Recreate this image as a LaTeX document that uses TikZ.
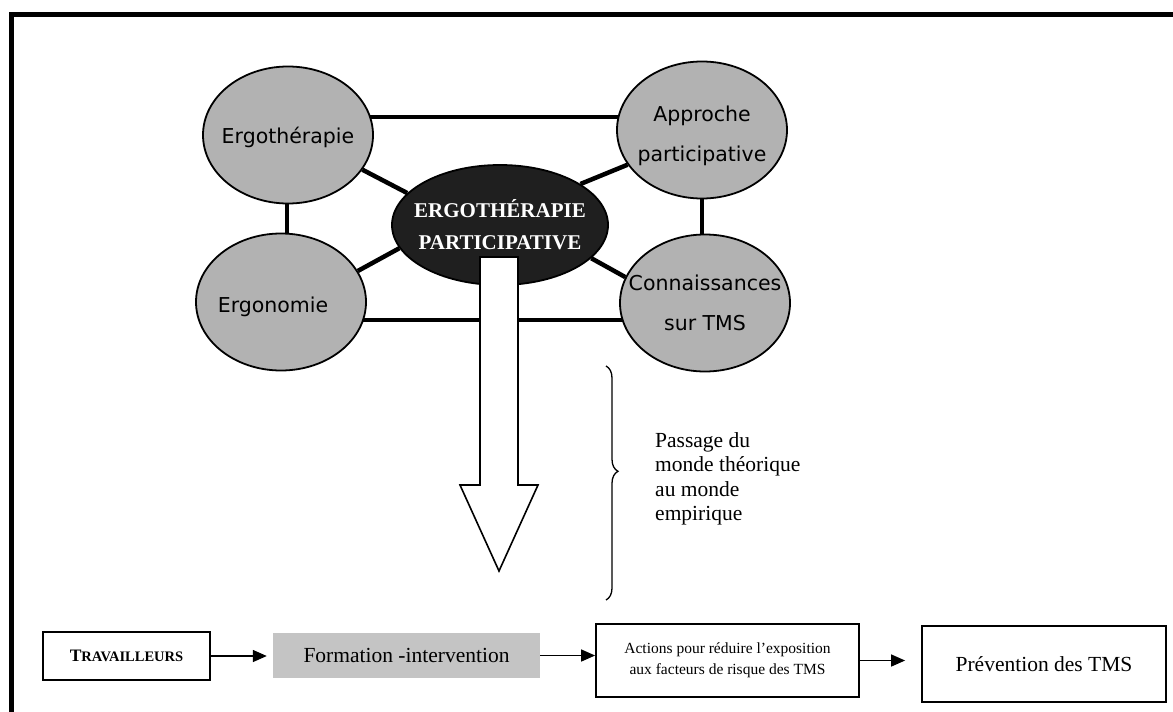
\documentclass[tikz,border=0pt]{standalone}
\usepackage{fontspec}
\setmainfont{Liberation Serif}
\newfontfamily\bubblefont{DejaVu Sans}
\usetikzlibrary{shapes.geometric,arrows.meta,decorations.pathreplacing,backgrounds}

\definecolor{bubblegray}{gray}{0.70}
\definecolor{coregray}{gray}{0.12}
\definecolor{formgray}{gray}{0.77}

\begin{document}
\begin{tikzpicture}[x=1pt,y=-1pt,
  bubble/.style={ellipse, draw=black, line width=1.8pt, fill=bubblegray,
    minimum width=170pt, minimum height=137pt, inner sep=0pt},
  bubbletext/.style={font=\bubblefont\fontsize{20.5}{40}\selectfont, align=center, inner sep=0pt},
  link/.style={line width=4.5pt},
  stepbox/.style={draw=black, line width=1.8pt, fill=white, inner sep=0pt, align=center},
  flow/.style={line width=1.5pt, -{Triangle[length=14pt,width=12pt]}}
]
\useasboundingbox (0,0) rectangle (1173,712);

% outer frame (left and top rules only)
\draw[line width=5pt, line join=miter] (11.5,712) -- (11.5,14.5) -- (1173,14.5);

% the four disciplines
\node[bubble, label={[bubbletext, yshift=-2pt]center:Ergoth\'erapie}] (ergo) at (288,135) {};
\node[bubble, label={[bubbletext, yshift=-6pt]center:Approche\\participative}] (appr) at (702,130) {};
\node[bubble, label={[bubbletext, xshift=-8pt, yshift=-5pt]center:Ergonomie}] (ergon) at (281,302) {};
\node[bubble, label={[bubbletext]center:Connaissances\\sur TMS}] (conn) at (705,303) {};

% central concept
\node[ellipse, draw=black, line width=1.8pt, fill=coregray,
      minimum width=216pt, minimum height=120pt, inner sep=0pt,
      label={[font=\bfseries\fontsize{21}{32}\selectfont, text=white, align=center, inner sep=0pt]center:ERGOTH\'ERAPIE\\PARTICIPATIVE}]
      (core) at (500,225) {};

% rails for the straight connectors
\coordinate (toprail) at (0,117);
\coordinate (botrail) at (0,320);
\coordinate (leftrail) at (287,0);
\coordinate (rightrail) at (702,0);

\begin{scope}[on background layer]
  \draw[link] (ergo |- toprail) -- (appr |- toprail);
  \draw[link] (ergon |- botrail) -- (conn |- botrail);
  \draw[link] (leftrail |- ergo) -- (leftrail |- ergon);
  \draw[link] (rightrail |- appr) -- (rightrail |- conn);
  \draw[link] (ergo.335) -- (core.161);
  \draw[link] (appr.205) -- (core.27);
  \draw[link] (ergon.22) -- (core.193);
  \draw[link] (conn.162) -- (core.340);
\end{scope}

% hollow arrow from theory down to practice
\draw[line width=1.6pt, fill=white, line join=miter]
  (480,257) -- (480,485) -- (460,485) -- (499,571) -- (538,485) -- (518,485) -- (518,257) -- cycle;

% brace and its caption
\coordinate (bracetop) at (606,366);
\coordinate (bracebot) at (606,600);
\draw[line width=1.3pt, decorate, decoration={brace, amplitude=12pt, aspect=0.45}] (bracetop) -- (bracebot);
\node[anchor=north west, align=left, inner sep=0pt, font=\fontsize{21.5}{24.5}\selectfont] (caption) at (655,432)
  {Passage du\\monde th\'eorique\\au monde\\empirique};

% intervention chain
\node[stepbox, minimum width=167pt, minimum height=48pt] (trav) at (126.5,656)
  {\bfseries{\fontsize{17.5}{18}\selectfont T}{\fontsize{14.5}{18}\selectfont RAVAILLEURS}};
\node[fill=formgray, inner sep=0pt, minimum width=267pt, minimum height=45pt,
      font=\fontsize{21.5}{24}\selectfont] (form) at (406.5,655.5) {Formation -intervention};
\node[stepbox, minimum width=263pt, minimum height=73pt, font=\fontsize{15.5}{21}\selectfont] (act) at (727.5,660.5)
  {Actions pour r\'eduire l'exposition\\aux facteurs de risque des TMS};
\node[stepbox, minimum width=244pt, minimum height=76pt, font=\fontsize{21.5}{24}\selectfont] (prev) at (1044,664)
  {Pr\'evention des TMS};

\draw[flow, shorten >=6pt] (trav) -- (trav -| form.west);
\draw[flow] (form.east) -- (form.east -| act.west);
\draw[flow, shorten >=16pt] (act.east) -- (act.east -| prev.west);
\end{tikzpicture}
\end{document}
